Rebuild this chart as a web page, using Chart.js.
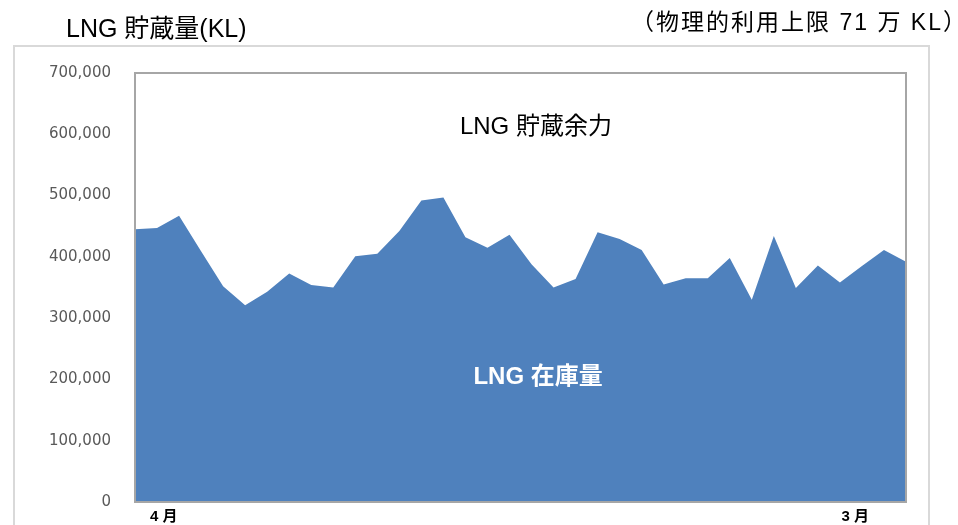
<!DOCTYPE html>
<html lang="ja">
<head>
  <meta charset="UTF-8">
  <title>LNG 貯蔵量</title>
  <style>
    html, body {
      margin: 0;
      padding: 0;
      background: #ffffff;
    }
    #wrap {
      position: relative;
      width: 958px;
      height: 525px;
    }
  </style>
</head>
<body>
  <div id="wrap">
    <canvas id="lngChart" width="958" height="525"></canvas>
  </div>

  <script src="https://cdn.jsdelivr.net/npm/chart.js"></script>
  <script>
    // 週ごとの LNG 在庫量 (KL) - 図から読み取り
    const stock = [
      445000, 447000, 467000, 409000, 352000, 321000, 343000, 373000, 354000,
      350000, 401000, 405000, 442000, 492000, 497000, 432000, 415000, 436000,
      388000, 350000, 364000, 440000, 429000, 411000, 355000, 365000, 365000,
      398000, 330000, 434000, 349000, 386000, 358000, 385000, 411000, 392000
    ];
    // x 軸の月ラベル (位置は週番号)
    const monthPos = [1.3, 32.7];
    const monthLabels = ['4 月', '3 月'];
    const yTicks = [0, 100000, 200000, 300000, 400000, 500000, 600000, 700000];

    const titleLeft = 'LNG 貯蔵量(KL)';
    const titleRight = '（物理的利用上限 71 万 KL）';
    const labelSpare = 'LNG 貯蔵余力';
    const labelStock = 'LNG 在庫量';

    const jpFont = '"Liberation Sans", "Noto Sans CJK JP", sans-serif';

    const framePlugin = {
      id: 'frames',
      beforeDraw(chart) {
        const ctx = chart.ctx;
        ctx.save();
        ctx.strokeStyle = '#d9d9d9';
        ctx.lineWidth = 2;
        ctx.strokeRect(14, 46, 915, 500);
        ctx.restore();
      },
      afterDatasetsDraw(chart) {
        const ctx = chart.ctx;
        const a = chart.chartArea;
        ctx.save();
        ctx.strokeStyle = '#a6a6a6';
        ctx.lineWidth = 2;
        ctx.strokeRect(a.left, a.top, a.right - a.left, a.bottom - a.top);

        // 注記テキスト
        const xs = chart.scales.x;
        const ys = chart.scales.y;
        ctx.textAlign = 'center';
        ctx.textBaseline = 'middle';
        ctx.fillStyle = '#000000';
        ctx.font = '24px ' + jpFont;
        ctx.fillText(labelSpare, xs.getPixelForValue(18.2), ys.getPixelForValue(612000));
        ctx.fillStyle = '#ffffff';
        ctx.font = 'bold 24px ' + jpFont;
        ctx.fillText(labelStock, xs.getPixelForValue(18.3), ys.getPixelForValue(203000));

        // タイトル
        ctx.fillStyle = '#000000';
        ctx.font = '25px ' + jpFont;
        ctx.textAlign = 'left';
        ctx.fillText(titleLeft, 66, 30);
        ctx.font = '23px ' + jpFont;
        ctx.letterSpacing = '2px';
        ctx.textAlign = 'right';
        ctx.fillText(titleRight, 968, 24);
        ctx.restore();
      }
    };

    const ctx = document.getElementById('lngChart').getContext('2d');
    new Chart(ctx, {
      type: 'line',
      data: {
        datasets: [{
          label: 'LNG 在庫量',
          data: stock.map(function (v, i) { return { x: i, y: v }; }),
          borderWidth: 0,
          pointRadius: 0,
          tension: 0,
          fill: 'origin',
          backgroundColor: '#4f81bd',
          borderColor: '#4f81bd'
        }]
      },
      options: {
        responsive: false,
        animation: false,
        layout: {
          padding: { left: 0, top: 73, right: 52, bottom: 0 }
        },
        plugins: {
          legend: { display: false },
          tooltip: { enabled: false }
        },
        scales: {
          x: {
            type: 'linear',
            min: 0,
            max: stock.length - 1,
            grid: { display: false, drawTicks: false },
            border: { display: false },
            afterBuildTicks(scale) {
              scale.ticks = monthPos.map(function (v) { return { value: v }; });
            },
            ticks: {
              autoSkip: false,
              maxRotation: 0,
              padding: 6,
              color: '#000000',
              font: { family: jpFont, size: 15, weight: 'bold' },
              callback: function (v) {
                const k = monthPos.indexOf(v);
                return k >= 0 ? monthLabels[k] : '';
              }
            },
            afterFit(scale) {
              scale.height = 23;
              scale.paddingLeft = 0;
              scale.paddingRight = 0;
            }
          },
          y: {
            min: 0,
            max: 700000,
            grid: { display: false, drawTicks: false },
            border: { display: false },
            afterBuildTicks(scale) {
              scale.ticks = yTicks.map(function (v) { return { value: v }; });
            },
            ticks: {
              padding: 24,
              color: '#595959',
              font: { family: 'DejaVu Sans', size: 15 },
              callback: function (v) { return Number(v).toLocaleString('en-US'); }
            },
            afterFit(scale) {
              scale.width = 135;
              scale.paddingTop = 0;
              scale.paddingBottom = 0;
            }
          }
        }
      },
      plugins: [framePlugin]
    });
  </script>
</body>
</html>
